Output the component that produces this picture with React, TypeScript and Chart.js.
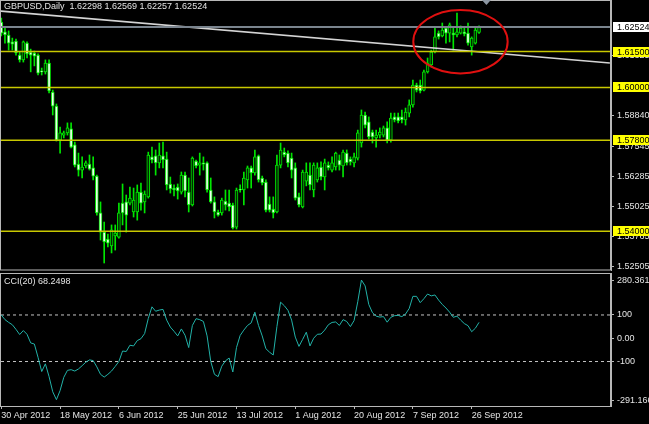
import React, { useEffect, useRef } from 'react';
import { Chart, registerables } from 'chart.js';

Chart.register(...registerables);

// ---------- DATA ----------
// Daily GBPUSD bars, 30 Apr 2012 .. 28 Sep 2012 (broker with Sunday bars), index = bar number
const opens = [
  1.6273, 1.6232, 1.6219, 1.6190, 1.6194, 1.6135, 1.6115, 1.6185, 1.6148, 1.6144,
  1.6135, 1.6069, 1.6065, 1.6102, 1.5981, 1.5922, 1.5780, 1.5801, 1.5810, 1.5827,
  1.5760, 1.5680, 1.5655, 1.5672, 1.5680, 1.5664, 1.5630, 1.5476, 1.5396, 1.5367,
  1.5338, 1.5380, 1.5375, 1.5517, 1.5522, 1.5517, 1.5480, 1.5480, 1.5563, 1.5522,
  1.5543, 1.5710, 1.5714, 1.5685, 1.5714, 1.5701, 1.5597, 1.5580, 1.5584, 1.5563,
  1.5634, 1.5563, 1.5509, 1.5693, 1.5676, 1.5685, 1.5685, 1.5572, 1.5522, 1.5480,
  1.5476, 1.5526, 1.5517, 1.5509, 1.5417, 1.5576, 1.5572, 1.5614, 1.5664, 1.5643,
  1.5714, 1.5622, 1.5605, 1.5513, 1.5492, 1.5480, 1.5676, 1.5730, 1.5726, 1.5705,
  1.5664, 1.5543, 1.5501, 1.5609, 1.5634, 1.5572, 1.5614, 1.5668, 1.5626, 1.5676,
  1.5655, 1.5668, 1.5697, 1.5672, 1.5726, 1.5701, 1.5685, 1.5705, 1.5768, 1.5885,
  1.5856, 1.5814, 1.5789, 1.5801, 1.5801, 1.5831, 1.5780, 1.5877, 1.5877, 1.5877,
  1.5864, 1.5893, 1.5927, 1.6010, 1.6010, 1.5989, 1.6065, 1.6094, 1.6148, 1.6227,
  1.6215, 1.6248, 1.6227, 1.6227, 1.6219, 1.6227, 1.6232, 1.6227, 1.6169, 1.6185,
  1.62298,
];
const highs = [
  1.6290, 1.6252, 1.6236, 1.6206, 1.6202, 1.6148, 1.6194, 1.6190, 1.6160, 1.6152,
  1.6140, 1.6081, 1.6115, 1.6115, 1.5989, 1.5931, 1.5835, 1.5818, 1.5852, 1.5852,
  1.5772, 1.5726, 1.5710, 1.5693, 1.5718, 1.5710, 1.5634, 1.5522, 1.5438, 1.5388,
  1.5426, 1.5426, 1.5517, 1.5597, 1.5551, 1.5584, 1.5580, 1.5593, 1.5601, 1.5568,
  1.5730, 1.5751, 1.5739, 1.5768, 1.5772, 1.5730, 1.5626, 1.5593, 1.5597, 1.5647,
  1.5647, 1.5622, 1.5710, 1.5697, 1.5726, 1.5710, 1.5689, 1.5622, 1.5543, 1.5488,
  1.5538, 1.5572, 1.5572, 1.5517, 1.5580, 1.5593, 1.5647, 1.5672, 1.5672, 1.5739,
  1.5718, 1.5630, 1.5614, 1.5543, 1.5543, 1.5718, 1.5768, 1.5747, 1.5735, 1.5726,
  1.5685, 1.5559, 1.5655, 1.5685, 1.5685, 1.5685, 1.5685, 1.5689, 1.5701, 1.5689,
  1.5710, 1.5730, 1.5718, 1.5739, 1.5739, 1.5710, 1.5726, 1.5822, 1.5906, 1.5897,
  1.5877, 1.5822, 1.5822, 1.5831, 1.5839, 1.5856, 1.5893, 1.5893, 1.5893, 1.5906,
  1.5914, 1.5948, 1.6031, 1.6018, 1.6031, 1.6073, 1.6123, 1.6156, 1.6252, 1.6236,
  1.6269, 1.6252, 1.6269, 1.6252, 1.6311, 1.6257, 1.6252, 1.6269, 1.6211, 1.6248,
  1.62569,
];
const lows = [
  1.6215, 1.6185, 1.6156, 1.6156, 1.6135, 1.6106, 1.6106, 1.6123, 1.6065, 1.6090,
  1.6052, 1.6052, 1.6056, 1.5977, 1.5885, 1.5776, 1.5726, 1.5789, 1.5801, 1.5747,
  1.5668, 1.5630, 1.5622, 1.5664, 1.5655, 1.5614, 1.5467, 1.5363, 1.5267, 1.5334,
  1.5309, 1.5321, 1.5371, 1.5426, 1.5396, 1.5509, 1.5459, 1.5446, 1.5488, 1.5476,
  1.5538, 1.5685, 1.5634, 1.5664, 1.5664, 1.5572, 1.5559, 1.5547, 1.5534, 1.5555,
  1.5543, 1.5480, 1.5505, 1.5664, 1.5634, 1.5655, 1.5563, 1.5517, 1.5455, 1.5463,
  1.5467, 1.5488, 1.5484, 1.5409, 1.5409, 1.5563, 1.5509, 1.5580, 1.5580, 1.5634,
  1.5605, 1.5593, 1.5480, 1.5480, 1.5455, 1.5476, 1.5664, 1.5710, 1.5668, 1.5622,
  1.5530, 1.5501, 1.5497, 1.5589, 1.5572, 1.5543, 1.5605, 1.5614, 1.5572, 1.5655,
  1.5647, 1.5655, 1.5655, 1.5626, 1.5676, 1.5676, 1.5668, 1.5697, 1.5751, 1.5831,
  1.5785, 1.5768, 1.5751, 1.5789, 1.5793, 1.5768, 1.5772, 1.5856, 1.5852, 1.5852,
  1.5843, 1.5877, 1.5918, 1.5981, 1.5977, 1.5985, 1.6060, 1.6085, 1.6144, 1.6202,
  1.6211, 1.6185, 1.6190, 1.6156, 1.6211, 1.6223, 1.6215, 1.6177, 1.6135, 1.6181,
  1.62257,
];
const closes = [
  1.6227, 1.6219, 1.6185, 1.6181, 1.6144, 1.6115, 1.6190, 1.6140, 1.6135, 1.6131,
  1.6060, 1.6065, 1.6102, 1.5985, 1.5922, 1.5780, 1.5810, 1.5810, 1.5831, 1.5751,
  1.5676, 1.5655, 1.5668, 1.5685, 1.5659, 1.5630, 1.5476, 1.5396, 1.5355, 1.5350,
  1.5405, 1.5392, 1.5476, 1.5476, 1.5467, 1.5538, 1.5530, 1.5563, 1.5517, 1.5555,
  1.5718, 1.5697, 1.5685, 1.5718, 1.5697, 1.5593, 1.5576, 1.5572, 1.5568, 1.5634,
  1.5568, 1.5509, 1.5705, 1.5672, 1.5685, 1.5680, 1.5572, 1.5522, 1.5480, 1.5467,
  1.5530, 1.5509, 1.5501, 1.5413, 1.5572, 1.5572, 1.5622, 1.5664, 1.5643, 1.5710,
  1.5614, 1.5601, 1.5488, 1.5488, 1.5476, 1.5676, 1.5739, 1.5718, 1.5685, 1.5655,
  1.5538, 1.5509, 1.5647, 1.5647, 1.5593, 1.5676, 1.5664, 1.5626, 1.5685, 1.5664,
  1.5685, 1.5726, 1.5676, 1.5730, 1.5685, 1.5689, 1.5710, 1.5810, 1.5885, 1.5843,
  1.5793, 1.5793, 1.5801, 1.5814, 1.5831, 1.5780, 1.5872, 1.5864, 1.5860, 1.5864,
  1.5897, 1.5927, 1.6010, 1.5989, 1.5985, 1.6065, 1.6102, 1.6148, 1.6211, 1.6211,
  1.6240, 1.6227, 1.6261, 1.6219, 1.6232, 1.6248, 1.6223, 1.6185, 1.6206, 1.6240,
  1.62524,
];
const cciValues = [
  100, 80, 68, 58, 38, 16, 33, 17, -20, -25,
  -82, -143, -110, -165, -230, -264, -225, -168, -138, -135,
  -141, -132, -118, -103, -93, -96, -123, -155, -167, -155,
  -141, -121, -100, -55, -57, -30, -33, -10, -2, 20,
  85, 135, 116, 121, 124, 78, 48, 30, 10, 40,
  13, -40, 55, 84, 80, 72, 10, -100, -155, -165,
  -120, -97, -85, -145, -40, 12, 35, 55, 66, 112,
  55, 10, -45, -60, -72, 50, 155, 140, 120, 78,
  5, -35, -5, 26, -33, 0, 17, 18, 35, 58,
  68, 70, 55, 80, 72, 50, 76, 157, 250, 225,
  145, 110, 95, 91, 93, 69, 90, 97, 98, 93,
  104, 128, 180, 180, 153, 170, 190, 182, 186, 164,
  145, 130, 112, 90, 95, 78, 63, 54, 28, 43,
  68.2498,
];

const symbolTitle = 'GBPUSD,Daily';
const cciTitle = 'CCI(20)';
const xTickIndex = [0, 16, 32, 48, 64, 80, 96, 112, 128];
const xTickLabels = ['30 Apr 2012', '18 May 2012', '6 Jun 2012', '25 Jun 2012', '13 Jul 2012', '1 Aug 2012', '20 Aug 2012', '7 Sep 2012', '26 Sep 2012'];
const priceTicks = [1.52505, 1.53765, 1.55025, 1.56285, 1.57545, 1.5884, 1.61325];
const levelLines = [1.615, 1.6, 1.578, 1.54];
const bidPrice = 1.62524;
const trendLineX = [-0.35, 165.6];
const trendLineY = [1.6319, 1.6102];
const ellipseCenter = [124.95, 1.6191];
const ellipseRadius = [12.84, 0.01324];
const shiftMarkerIndex = 132;
const priceMin = 1.52378;
const priceMax = 1.63651;
const cciMin = -291.166;
const cciMax = 280.3617;
const cciTickValues = [-268, -100, 0, 100, 246];
const cciTickLabels = ['-291.166', '-100', '0.00', '100', '280.3617'];
const cciLevels = [100, -100];
const xMin = -0.08;
const xMax = 165.91;

// ---------- STYLE ----------
const FAMILY = '"Liberation Sans", Arial, sans-serif';
const FONT = `9px ${FAMILY}`;
const AXIS = '#b8b8b8';
const TEXT = '#e4e4e4';
const CANDLE = '#00e600';
const BULL_FILL = '#002a00';
const BEAR_FILL = '#eaffea';
const LEVEL = '#c8c800';

function lineDs(pts: { x: number; y: number }[], color: string, width: number, dash?: number[]) {
  return {
    type: 'line' as const,
    data: pts,
    borderColor: color,
    borderWidth: width,
    borderDash: dash || [],
    pointRadius: 0,
    tension: 0,
    fill: false,
  };
}

const mainDecor = {
  id: 'mainDecor',
  afterDraw(chart: any) {
    const { ctx, chartArea: ca, scales } = chart;
    const xs = scales.x;
    const ys = scales.y;
    ctx.save();
    // frame
    ctx.strokeStyle = AXIS;
    ctx.lineWidth = 1;
    ctx.strokeRect(ca.left - 0.5, ca.top + 0.5, ca.right - ca.left, ca.bottom - ca.top - 0.5);
    // red ellipse
    const cx = xs.getPixelForValue(ellipseCenter[0]);
    const cy = ys.getPixelForValue(ellipseCenter[1]);
    const rx = Math.abs(xs.getPixelForValue(ellipseCenter[0] + ellipseRadius[0]) - cx);
    const ry = Math.abs(ys.getPixelForValue(ellipseCenter[1] + ellipseRadius[1]) - cy);
    ctx.strokeStyle = '#e01010';
    ctx.lineWidth = 2;
    ctx.beginPath();
    ctx.ellipse(cx, cy, rx, ry, 0, 0, Math.PI * 2);
    ctx.stroke();
    // chart shift marker
    const mx = xs.getPixelForValue(shiftMarkerIndex);
    ctx.fillStyle = '#8c96a2';
    ctx.beginPath();
    ctx.moveTo(mx - 4.5, ca.top);
    ctx.lineTo(mx + 4.5, ca.top);
    ctx.lineTo(mx, ca.top + 5);
    ctx.closePath();
    ctx.fill();
    // price labels in boxes
    ctx.font = FONT;
    ctx.textBaseline = 'middle';
    ctx.textAlign = 'left';
    const boxes = [...levelLines.map((v) => ({ v, bg: '#ffff00' })), { v: bidPrice, bg: '#ffffff' }];
    for (const b of boxes) {
      const py = Math.round(ys.getPixelForValue(b.v));
      ctx.fillStyle = b.bg;
      ctx.fillRect(ca.right + 2, py - 5, chart.width - ca.right - 2, 10);
      ctx.fillStyle = '#000000';
      ctx.fillText(b.v.toFixed(5), ca.right + 6, py + 0.5);
    }
    // title
    ctx.fillStyle = TEXT;
    const last = opens.length - 1;
    const title = `${symbolTitle}  ${opens[last].toFixed(5)} ${highs[last].toFixed(5)} ${lows[last].toFixed(5)} ${closes[last].toFixed(5)}`;
    ctx.fillText(title, ca.left + 3, ca.top + 7);
    ctx.restore();
  },
};

const cciDecor = {
  id: 'cciDecor',
  afterDraw(chart: any) {
    const { ctx, chartArea: ca } = chart;
    ctx.save();
    ctx.strokeStyle = AXIS;
    ctx.lineWidth = 1;
    ctx.strokeRect(ca.left - 0.5, ca.top + 0.5, ca.right - ca.left, ca.bottom - ca.top);
    ctx.font = FONT;
    ctx.textBaseline = 'middle';
    ctx.textAlign = 'left';
    ctx.fillStyle = TEXT;
    ctx.fillText(`${cciTitle} ${cciValues[cciValues.length - 1].toFixed(4)}`, ca.left + 3, ca.top + 9);
    ctx.restore();
  },
};

export default function App() {
  const mainRef = useRef<HTMLCanvasElement | null>(null);
  const cciRef = useRef<HTMLCanvasElement | null>(null);

  useEffect(() => {
    const idx = opens.map((_, i) => i);
    const bull = idx.filter((i) => closes[i] >= opens[i]);
    const bear = idx.filter((i) => closes[i] < opens[i]);
    const font = { family: FAMILY, size: 9 };

    const main = new Chart(mainRef.current as HTMLCanvasElement, {
      type: 'bar',
      data: {
        datasets: [
          ...levelLines.map((v) => lineDs([{ x: xMin, y: v }, { x: xMax, y: v }], LEVEL, 1.5)),
          lineDs([{ x: xMin, y: bidPrice }, { x: xMax, y: bidPrice }], '#7a848e', 2),
          lineDs(trendLineX.map((x, i) => ({ x, y: trendLineY[i] })), '#d4d4d4', 1.5),
          {
            type: 'bar',
            data: bull.map((i) => ({ x: i, y: [opens[i], closes[i]] })),
            backgroundColor: BULL_FILL,
            borderColor: CANDLE,
            borderWidth: 1,
            borderSkipped: false,
            barThickness: 3,
            minBarLength: 1,
            grouped: false,
          } as any,
          {
            type: 'bar',
            data: bear.map((i) => ({ x: i, y: [opens[i], closes[i]] })),
            backgroundColor: BEAR_FILL,
            borderColor: CANDLE,
            borderWidth: 1,
            borderSkipped: false,
            barThickness: 3,
            minBarLength: 1,
            grouped: false,
          } as any,
          {
            type: 'bar',
            data: idx.map((i) => ({ x: i, y: [lows[i], highs[i]] })),
            backgroundColor: CANDLE,
            borderWidth: 0,
            barThickness: 1,
            grouped: false,
          } as any,
        ] as any,
      },
      options: {
        animation: false,
        responsive: false,
        devicePixelRatio: 1,
        events: [],
        layout: { padding: { left: 1, right: 0, top: 0, bottom: 1 } },
        plugins: { legend: { display: false }, tooltip: { enabled: false } },
        scales: {
          x: { type: 'linear', min: xMin, max: xMax, display: false, offset: false, grid: { offset: false } },
          y: {
            type: 'linear',
            position: 'right',
            min: priceMin,
            max: priceMax,
            beginAtZero: false,
            afterBuildTicks: (s: any) => {
              s.ticks = priceTicks.map((v) => ({ value: v }));
            },
            afterFit: (s: any) => {
              s.width = 38;
              s.paddingTop = 0;
              s.paddingBottom = 0;
            },
            grid: { drawOnChartArea: false, drawTicks: true, tickLength: 3, color: AXIS },
            border: { display: true, color: AXIS },
            ticks: {
              color: TEXT,
              font,
              padding: 3,
              autoSkip: false,
              callback: (v: any) => Number(v).toFixed(5),
            },
          },
        },
      } as any,
      plugins: [mainDecor],
    });

    const cci = new Chart(cciRef.current as HTMLCanvasElement, {
      type: 'line',
      data: {
        datasets: [
          lineDs(cciValues.map((v, i) => ({ x: i, y: v })), '#22b2a8', 1),
          ...cciLevels.map((v) => lineDs([{ x: xMin, y: v }, { x: xMax, y: v }], '#c4c4c4', 1, [3, 3])),
        ] as any,
      },
      options: {
        animation: false,
        responsive: false,
        devicePixelRatio: 1,
        events: [],
        layout: { padding: { left: 1, right: 0, top: 2, bottom: 0 } },
        plugins: { legend: { display: false }, tooltip: { enabled: false } },
        scales: {
          x: {
            type: 'linear',
            min: xMin,
            max: xMax,
            offset: false,
            afterBuildTicks: (s: any) => {
              s.ticks = xTickIndex.map((v) => ({ value: v }));
            },
            afterFit: (s: any) => {
              s.height = 18;
              s.paddingLeft = 0;
              s.paddingRight = 0;
            },
            grid: { drawOnChartArea: false, drawTicks: true, tickLength: 3, color: AXIS },
            border: { display: true, color: AXIS },
            ticks: {
              color: TEXT,
              font,
              align: 'start',
              maxRotation: 0,
              minRotation: 0,
              autoSkip: false,
              padding: 1,
              callback: (_v: any, i: number) => xTickLabels[i],
            },
          },
          y: {
            type: 'linear',
            position: 'right',
            min: cciMin,
            max: cciMax,
            afterBuildTicks: (s: any) => {
              s.ticks = cciTickValues.map((v) => ({ value: v }));
            },
            afterFit: (s: any) => {
              s.width = 38;
              s.paddingTop = 0;
              s.paddingBottom = 0;
            },
            grid: { drawOnChartArea: false, drawTicks: true, tickLength: 3, color: AXIS },
            border: { display: true, color: AXIS },
            ticks: {
              color: TEXT,
              font,
              padding: 3,
              autoSkip: false,
              callback: (_v: any, i: number) => cciTickLabels[i],
            },
          },
        },
      } as any,
      plugins: [cciDecor],
    });

    return () => {
      main.destroy();
      cci.destroy();
    };
  }, []);

  return (
    <div style={{ position: 'fixed', left: 0, top: 0, width: 649, height: 424, background: '#000', overflow: 'hidden' }}>
      <canvas ref={mainRef} width={649} height={271} style={{ position: 'absolute', left: 0, top: 0, width: 649, height: 271 }} />
      <canvas ref={cciRef} width={649} height={153} style={{ position: 'absolute', left: 0, top: 271, width: 649, height: 153 }} />
    </div>
  );
}
